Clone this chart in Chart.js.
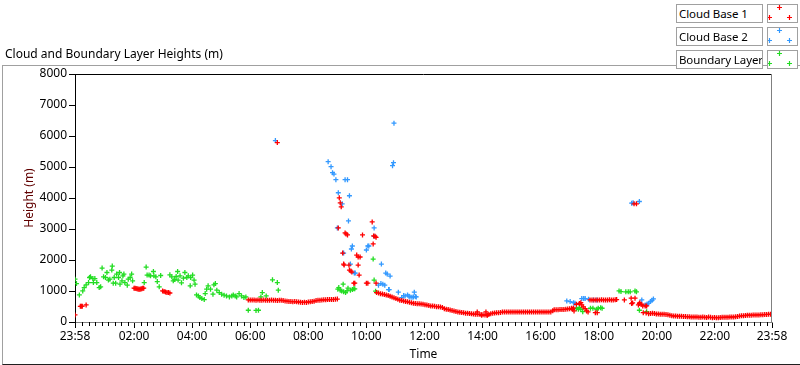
<!DOCTYPE html>
<html>
<head>
<meta charset="utf-8">
<script src="https://cdn.jsdelivr.net/npm/chart.js@4.4.1/dist/chart.umd.min.js"></script>
<style>
  body { margin: 0; background: #fff; font-family: "Noto Sans", sans-serif; }
  #wrap { position: relative; width: 800px; height: 365px; overflow: hidden; }
  #chart { position: absolute; left: 0; top: 0; }
  .title { position: absolute; left: 5px; top: 45px; font-size: 12px; color: #000; white-space: nowrap; }
  .frame { position: absolute; left: 2px; top: 65px; width: 800px; height: 298px; border-left: 1px solid #a0a0a0; border-top: 1px solid #a0a0a0; border-bottom: 1px solid #202020; }
  .leg { position: absolute; left: 676px; width: 87px; height: 19px; border: 1px solid #a0a0a0; background: #fff; font-size: 11.5px; letter-spacing: -0.1px; line-height: 17px; padding-left: 2px; box-sizing: border-box; white-space: nowrap; overflow: hidden; }
  .sym { position: absolute; left: 767px; width: 31px; height: 19px; border: 1px solid #a0a0a0; background: #fff; box-sizing: border-box; }
</style>
</head>
<body>
<div id="wrap">
  <div class="frame"></div>
  <canvas id="chart" width="800" height="365"></canvas>
  <div class="title">Cloud and Boundary Layer Heights (m)</div>
  <div id="legend"></div>
</div>
<script>
// minutes after 23:58 of the previous day, height in metres
const cloudBase1 = [
  [0,227],[11,505],[13,505],[15,510],[23,551],
  [122,1092],[124,1085],[126,1079],[128,1069],[130,1066],[132,1059],[134,1056],[136,1066],[138,1075],[140,1085],[142,1092],
  [181,1004],[184,985],[187,965],[190,955],[193,950],[196,935],
  [358,713],[362,710],[366,713],[370,706],[374,703],[378,708],[382,703],[386,700],[390,706],[394,700],[398,703],[402,700],
  [406,706],[410,700],[414,703],[418,697],[422,700],[426,703],[430,690],[434,680],[438,672],[442,665],[446,660],[450,655],
  [454,658],[458,650],[462,645],[466,640],[470,630],[474,640],[478,632],[482,645],[486,650],[490,660],[494,672],[498,690],
  [502,700],[506,705],[510,710],[514,715],[518,718],[522,722],[526,722],[530,725],[534,728],[538,730],[542,740],
  [418,5788],
  [546,4007],[548,3845],[550,3715],[544,3035],[558,2873],[560,2841],[563,2808],[553,2225],[555,1869],[556,1837],[566,1837],
  [567,1675],[570,1642],[572,1610],[576,1254],[578,1254],[582,2160],[585,2096],[589,2096],[585,1837],[587,1513],[594,2808],
  [602,1254],[605,1254],[614,3229],[617,2776],[620,2763],[622,2731],[616,2517],[622,1254],
  [623,949],[627,935],[631,915],[635,900],[639,885],[643,870],[647,855],[651,830],[655,805],[659,780],[663,755],[667,730],
  [671,705],[675,690],[679,675],[683,662],[687,650],[691,635],[695,620],[699,605],[703,595],[707,590],[711,585],[715,578],
  [719,573],[723,560],[727,545],[731,530],[735,520],[739,515],[743,505],[747,495],[751,490],[755,486],[759,470],[763,430],
  [767,411],[771,400],[775,385],[779,370],[783,356],[787,335],[791,324],[795,315],[799,305],[803,295],[807,285],[811,282],
  [815,275],[819,265],[823,255],[827,252],[831,249],[835,249],[839,240],[843,230],[847,222],[851,228],[855,245],[859,270],
  [863,282],[867,290],[871,295],[875,300],[879,310],[883,320],[887,324],[891,324],[895,320],[899,324],[903,326],[907,324],
  [911,324],[915,322],[919,324],[923,324],[927,326],[931,324],[935,324],[939,322],[943,324],[947,324],[951,324],[955,326],
  [959,324],[963,324],[967,324],[971,322],[975,324],[979,324],[983,326],[987,360],[990,398],[994,398],[998,398],[1002,400],
  [1006,400],[1010,405],[1014,410],[1018,421],[1022,430],[1026,440],[1030,455],
  [831,324],[840,217],[849,324],[852,217],
  [1028,411],[1031,356],[1036,573],[1042,593],[1045,625],[1047,551],[1050,486],[1054,431],[1057,356],[1060,324],[1075,301],[1079,301],
  [1064,713],[1068,713],[1072,710],[1076,713],[1080,713],[1084,713],[1088,716],[1092,713],[1096,713],[1100,713],[1104,716],
  [1108,713],[1112,713],[1116,720],[1119,722],
  [1135,713],[1149,768],[1157,768],[1152,615],[1150,593],[1155,3812],[1160,3812],[1164,551],[1166,593],[1167,625],[1170,573],
  [1173,518],[1178,518],[1181,518],[1174,301],[1180,292],
  [1185,269],[1189,275],[1193,280],[1197,275],[1201,262],[1205,255],[1209,252],[1213,250],[1217,249],[1221,245],[1225,235],
  [1229,220],[1233,205],[1237,194],[1241,190],[1245,188],[1249,185],[1253,182],[1257,180],[1261,175],[1265,172],[1269,170],
  [1273,165],[1277,162],[1281,162],[1285,160],[1289,155],[1293,150],[1297,158],[1301,150],[1305,145],[1309,160],[1313,150],
  [1317,140],[1321,145],[1325,139],[1329,140],[1333,145],[1337,150],[1341,150],[1345,155],[1349,155],[1353,160],[1357,162],
  [1361,165],[1365,170],[1369,180],[1373,190],[1377,200],[1381,205],[1385,210],[1389,217],[1393,217],[1397,220],[1401,222],
  [1405,225],[1409,227],[1413,227],[1417,230],[1421,235],[1425,240],[1429,245],[1433,249],[1437,249],[1440,252]
];

const cloudBase2 = [
  [414,5853],[523,5173],[529,5011],[532,4816],[535,4771],[539,4590],[558,4590],[563,4590],[544,4169],[567,4072],[552,3812],
  [565,3262],[542,3035],[573,2452],[571,2355],[555,2225],[569,1869],[577,1577],[579,1577],[605,2452],[607,2452],[602,2322],
  [618,3035],[618,2763],[633,1869],[642,1577],[645,1545],[651,1480],[627,1189],[632,1241],[636,1221],[640,1189],[648,1046],
  [649,1046],[668,962],[675,787],[679,851],[682,842],[687,875],[690,832],[692,810],[696,800],[699,810],[703,820],[705,810],
  [701,962],[656,5043],[658,5141],[659,6413],
  [1016,680],[1023,658],[1030,625],[1033,606],[1047,755],[1051,760],[1054,755],[1061,735],[1071,713],[1078,713],
  [1150,3832],[1153,3845],[1166,3887],[1171,713],[1178,551],[1182,580],[1185,606],[1189,658],[1192,700],[1195,745]
];

const boundaryLayer = [
  [0,1383],[3,1241],[9,875],[16,1004],[19,1111],[23,1198],[28,1273],[30,1435],[32,1458],[37,1402],[41,1402],[38,1273],
  [45,1273],[50,1111],[53,1134],[56,1739],[59,1458],[63,1435],[66,1597],[69,1351],[72,1383],[76,1675],[77,1804],[79,1254],
  [81,1435],[84,1254],[86,1545],[90,1435],[92,1597],[93,1221],[97,1328],[99,1490],[101,1545],[103,1273],[108,1189],
  [110,1383],[114,1435],[117,1545],[119,1328],
  [143,1273],[147,1772],[149,1513],[153,1513],[156,1490],[162,1629],[163,1490],[167,1458],[170,1305],[174,1134],[177,1500],
  [196,1522],[200,1458],[203,1328],[206,1370],[209,1467],[212,1629],[213,1351],[217,1490],[220,1263],[224,1415],[227,1597],
  [231,1435],[234,1490],[238,1166],[239,1435],[243,1513],[246,1351],[248,1221],
  [251,875],[255,842],[258,787],[262,755],[267,722],[269,917],[272,1059],[275,1166],[280,1059],[285,897],[287,1198],
  [290,1241],[293,1027],[298,949],[303,897],[308,865],[313,842],[319,810],[324,842],[327,875],[331,842],[334,810],
  [339,917],[344,842],[349,787],[353,810],
  [358,379],[374,374],[379,379],[384,810],[387,949],[395,842],[408,1360],[418,1273],[420,1027],
  [543,1059],[545,1111],[548,1027],[551,1004],[554,1221],[555,972],[559,949],[562,1004],[564,1092],[569,1027],[573,1046],
  [576,1069],[578,1069],
  [616,2031],[618,1351],[621,994],
  [1036,431],[1040,411],[1042,463],[1045,411],[1049,334],[1065,444],[1070,444],[1078,411],[1081,444],[1086,463],[1089,444],
  [1124,1004],[1128,981],[1138,972],[1143,972],[1147,972],[1157,1004],[1160,972],
  [1166,379],[1181,334]
];

const seriesNames = ["Cloud Base 1", "Cloud Base 2", "Boundary Layer"];
const seriesColors = ["#ff0000", "#3399ff", "#22dd22"];
const timeTicks = [0, 122, 242, 362, 482, 602, 722, 842, 962, 1082, 1202, 1322, 1440];
const heightMax = 8000;
const startMinute = 23 * 60 + 58;

function clockLabel(m) {
  const t = (startMinute + m) % 1440;
  const hh = String(Math.floor(t / 60)).padStart(2, "0");
  const mm = String(t % 60).padStart(2, "0");
  return hh + ":" + mm;
}

const font = { family: "'Noto Sans', sans-serif", size: 12 };

// minor x ticks and the top / right edge of the plot box
const frameAndMinorTicks = {
  id: "frameAndMinorTicks",
  afterDraw(chart) {
    const { ctx, chartArea: a, scales: { x } } = chart;
    ctx.save();
    ctx.lineWidth = 1;
    ctx.strokeStyle = "#000";
    ctx.beginPath();
    ctx.moveTo(a.left, a.top + 0.5);
    ctx.lineTo(a.right, a.top + 0.5);
    ctx.stroke();
    ctx.strokeStyle = "#808080";
    ctx.beginPath();
    ctx.moveTo(a.right - 0.5, a.top);
    ctx.lineTo(a.right - 0.5, a.bottom);
    ctx.stroke();
    ctx.strokeStyle = "#000";
    ctx.beginPath();
    for (let i = 0; i < timeTicks.length - 1; i++) {
      for (let k = 1; k <= 8; k++) {
        const v = i === 0 ? timeTicks[1] - k * 40 / 3 : timeTicks[i] + k * 40 / 3;
        if (v <= 0 || v >= 1440) continue;
        const px = Math.round(x.getPixelForValue(v)) + 0.5;
        ctx.moveTo(px, a.bottom);
        ctx.lineTo(px, a.bottom + 4);
      }
    }
    ctx.stroke();
    ctx.restore();
  }
};

const toPoints = (rows) => rows.map(([t, h]) => ({ x: t, y: h }));

new Chart(document.getElementById("chart"), {
  type: "scatter",
  data: {
    datasets: [cloudBase1, cloudBase2, boundaryLayer].map((rows, i) => ({
      label: seriesNames[i],
      data: toPoints(rows),
      pointStyle: "cross",
      pointRadius: 2.5,
      pointBorderWidth: 1.3,
      borderColor: seriesColors[i],
      backgroundColor: seriesColors[i],
      order: i === 0 ? 0 : 1
    }))
  },
  options: {
    responsive: false,
    animation: false,
    events: [],
    layout: { padding: { left: 0, top: 74, right: 28, bottom: 0 } },
    plugins: { legend: { display: false }, tooltip: { enabled: false } },
    scales: {
      x: {
        type: "linear",
        min: 0,
        max: 1440,
        afterBuildTicks: (scale) => { scale.ticks = timeTicks.map((v) => ({ value: v })); },
        afterFit: (scale) => { scale.height = 43; },
        ticks: { color: "#000", font, padding: 1, maxRotation: 0, autoSkip: false, callback: (v) => clockLabel(v) },
        grid: { drawOnChartArea: false, tickLength: 6, tickColor: "#000", tickWidth: 1 },
        border: { color: "#808080", width: 1 },
        title: { display: true, text: "Time", color: "#000", font, padding: { top: 0, bottom: 3 } }
      },
      y: {
        min: 0,
        max: heightMax,
        afterFit: (scale) => { scale.width = 75; },
        ticks: { stepSize: 1000, color: "#000", font, padding: 2, callback: (v) => String(v) },
        grid: { drawOnChartArea: false, tickLength: 6, tickColor: "#000" },
        border: { color: "#000", width: 1 },
        title: { display: true, text: "Height (m)", color: "#600000", font, padding: { top: 22, bottom: 0 } }
      }
    }
  },
  plugins: [frameAndMinorTicks]
});

// legend rows (text box + symbol box with three crosses)
const legend = document.getElementById("legend");
seriesNames.forEach((name, i) => {
  const top = 4 + i * 23;
  const label = document.createElement("div");
  label.className = "leg";
  label.style.top = top + "px";
  label.textContent = name;
  legend.appendChild(label);
  const sym = document.createElement("div");
  sym.className = "sym";
  sym.style.top = top + "px";
  const c = seriesColors[i];
  sym.innerHTML = `<svg width="29" height="17" viewBox="0 0 29 17">` +
    [[11, 2], [1, 12], [21, 12]].map(([cx, cy]) =>
      `<path d="M${cx - 2} ${cy + 0.5}h5M${cx + 0.5} ${cy - 2}v5" stroke="${c}" stroke-width="1.2"/>`).join("") +
    `</svg>`;
  legend.appendChild(sym);
});
</script>
</body>
</html>
